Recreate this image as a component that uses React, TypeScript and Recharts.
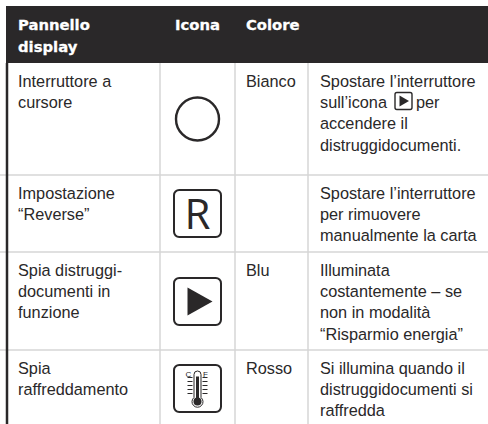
import { ReferenceArea, ReferenceLine, Scatter, ScatterChart, XAxis, YAxis } from "recharts";

const WIDTH = 488;
const HEIGHT = 424;

const INK = "#2a2829";
const RULE = "#d6d6d6";
const BODY_FONT = "'Liberation Sans', Arial, sans-serif";
const HEAD_FONT = "'DejaVu Sans', sans-serif";

// Table content, one list per column.
const HEADERS = [["Pannello", "display"], ["Icona"], ["Colore"], []];
const PANELS = [
  ["Interruttore a", "cursore"],
  ["Impostazione", "“Reverse”"],
  ["Spia distruggi-", "documenti in", "funzione"],
  ["Spia", "raffreddamento"],
];
const ICONS = ["circle", "reverse", "play", "thermo"];
const COLOURS = [["Bianco"], [], ["Blu"], ["Rosso"]];
const NOTES = [
  ["Spostare l’interruttore", "sull’icona|per", "accendere il", "distruggidocumenti."],
  ["Spostare l’interruttore", "per rimuovere", "manualmente la carta"],
  ["Illuminata", "costantemente – se", "non in modalità", "“Risparmio energia”"],
  ["Si illumina quando il", "distruggidocumenti si", "raffredda"],
];

// Table layout on the chart's axes.
const COLUMN_EDGES = [7, 160, 235, 308, 488];
const ROW_EDGES = [6, 63, 175, 252, 350, 424];
const TEXT_INSET = [11, 15, 11, 12];
const ICON_COLUMN_CENTRE = 197.5;
const ICON_ROW_CENTRE = [119, 213.5, 301.5, 388.5];

const textCells = [
  ...HEADERS.map((lines, c) => ({ x: COLUMN_EDGES[c] + TEXT_INSET[c], y: ROW_EDGES[0], lines, head: true })),
  ...[PANELS, [], COLOURS, NOTES].flatMap((column, c) =>
    column.map((lines, r) => ({ x: COLUMN_EDGES[c] + TEXT_INSET[c], y: ROW_EDGES[r + 1], lines, head: false })),
  ),
];

const iconCells = ICONS.map((icon, r) => ({ x: ICON_COLUMN_CENTRE, y: ICON_ROW_CENTRE[r], icon }));
const inlineIcon = [{ x: 403.5, y: 101, icon: "inline" }];

function CellText({ cx, cy, payload }: any) {
  const head = payload.head;
  return (
    <text
      x={cx}
      fontFamily={head ? HEAD_FONT : BODY_FONT}
      fontSize={head ? 14.8 : 16.3}
      fontWeight={head ? 700 : 400}
      fill={head ? "#ffffff" : INK}
      stroke={head ? "#ffffff" : "none"}
      strokeWidth={head ? 0.3 : 0}
    >
      {payload.lines.map((line: string, i: number) => {
        const parts = line.split("|");
        return (
          <tspan key={i} x={cx} y={cy + (head ? 24 : 23.5) + i * (head ? 22 : 21.4)}>
            {parts[0]}
            {parts[1] ? <tspan dx={29}>{parts[1]}</tspan> : null}
          </tspan>
        );
      })}
    </text>
  );
}

function Box({ x, y, size }: { x: number; y: number; size: number }) {
  return (
    <rect
      x={x - size / 2}
      y={y - size / 2}
      width={size}
      height={size}
      rx={size / 9}
      fill="#fff"
      stroke={INK}
      strokeWidth={size > 20 ? 2 : 1.4}
    />
  );
}

function Thermometer({ x, y }: { x: number; y: number }) {
  const ticks = [-11, -7, -3, 1, 5];
  return (
    <g>
      <text x={x - 9} y={y - 12} fontSize={8} fontFamily={BODY_FONT} fill={INK} textAnchor="middle">C</text>
      <text x={x + 8} y={y - 12} fontSize={8} fontFamily={BODY_FONT} fill={INK} textAnchor="middle">F</text>
      {ticks.map((t) => (
        <g key={t} stroke={INK} strokeWidth={1}>
          <line x1={x - 10} x2={x - 5} y1={y + t} y2={y + t} />
          <line x1={x + 5} x2={x + 10} y1={y + t} y2={y + t} />
        </g>
      ))}
      <path
        d={`M${x - 3.5} ${y + 9} V${y - 14} a3.5 3.5 0 0 1 7 0 V${y + 9} a5.5 5.5 0 1 1 -7 0 Z`}
        fill="#fff"
        stroke={INK}
        strokeWidth={1}
      />
      <rect x={x - 1.5} y={y - 12} width={3} height={24} fill={INK} />
      <circle cx={x} cy={y + 13} r={4} fill={INK} />
    </g>
  );
}

function CellIcon({ cx, cy, payload }: any) {
  switch (payload.icon) {
    case "circle":
      return <circle cx={cx} cy={cy} r={21.5} fill="none" stroke={INK} strokeWidth={2.4} />;
    case "reverse":
      return (
        <g>
          <Box x={cx} y={cy} size={47} />
          <text x={cx} y={cy + 15} textAnchor="middle" fontSize={42} fontFamily="'Open Sans', sans-serif" fill={INK}>
            R
          </text>
        </g>
      );
    case "play":
      return (
        <g>
          <Box x={cx} y={cy} size={47} />
          <path d={`M${cx - 10} ${cy - 14} L${cx + 15} ${cy} L${cx - 10} ${cy + 14} Z`} fill={INK} />
        </g>
      );
    case "thermo":
      return (
        <g>
          <Box x={cx} y={cy} size={47} />
          <Thermometer x={cx} y={cy} />
        </g>
      );
    default:
      return (
        <g>
          <Box x={cx} y={cy} size={17} />
          <path d={`M${cx - 4} ${cy - 5.5} L${cx + 5.5} ${cy} L${cx - 4} ${cy + 5.5} Z`} fill={INK} />
        </g>
      );
  }
}

export default function App() {
  return (
    <div style={{ position: "absolute", left: 0, top: 0, width: WIDTH, height: HEIGHT, background: "#fff" }}>
      <ScatterChart width={WIDTH} height={HEIGHT} margin={{ top: 0, right: 0, bottom: 0, left: 0 }}>
        <XAxis type="number" dataKey="x" domain={[0, WIDTH]} hide />
        <YAxis type="number" dataKey="y" domain={[0, HEIGHT]} reversed hide />

        {COLUMN_EDGES.slice(1, 4).map((x) => (
          <ReferenceLine key={x} segment={[{ x, y: ROW_EDGES[1] }, { x, y: HEIGHT }]} stroke={RULE} strokeWidth={1.5} />
        ))}
        {ROW_EDGES.slice(2, 5).map((y) => (
          <ReferenceLine key={y} y={y} segment={[{ x: COLUMN_EDGES[0], y }, { x: WIDTH, y }]} stroke={RULE} strokeWidth={1.5} />
        ))}
        <ReferenceLine
          segment={[{ x: COLUMN_EDGES[0], y: ROW_EDGES[1] }, { x: COLUMN_EDGES[0], y: HEIGHT }]}
          stroke={INK}
          strokeWidth={2.5}
        />
        <ReferenceArea x1={6} x2={WIDTH} y1={ROW_EDGES[0]} y2={ROW_EDGES[1]} fill={INK} fillOpacity={1} stroke="none" />

        <Scatter data={textCells} shape={CellText} isAnimationActive={false} />
        <Scatter data={iconCells} shape={CellIcon} isAnimationActive={false} />
        <Scatter data={inlineIcon} shape={CellIcon} isAnimationActive={false} />
      </ScatterChart>
    </div>
  );
}
